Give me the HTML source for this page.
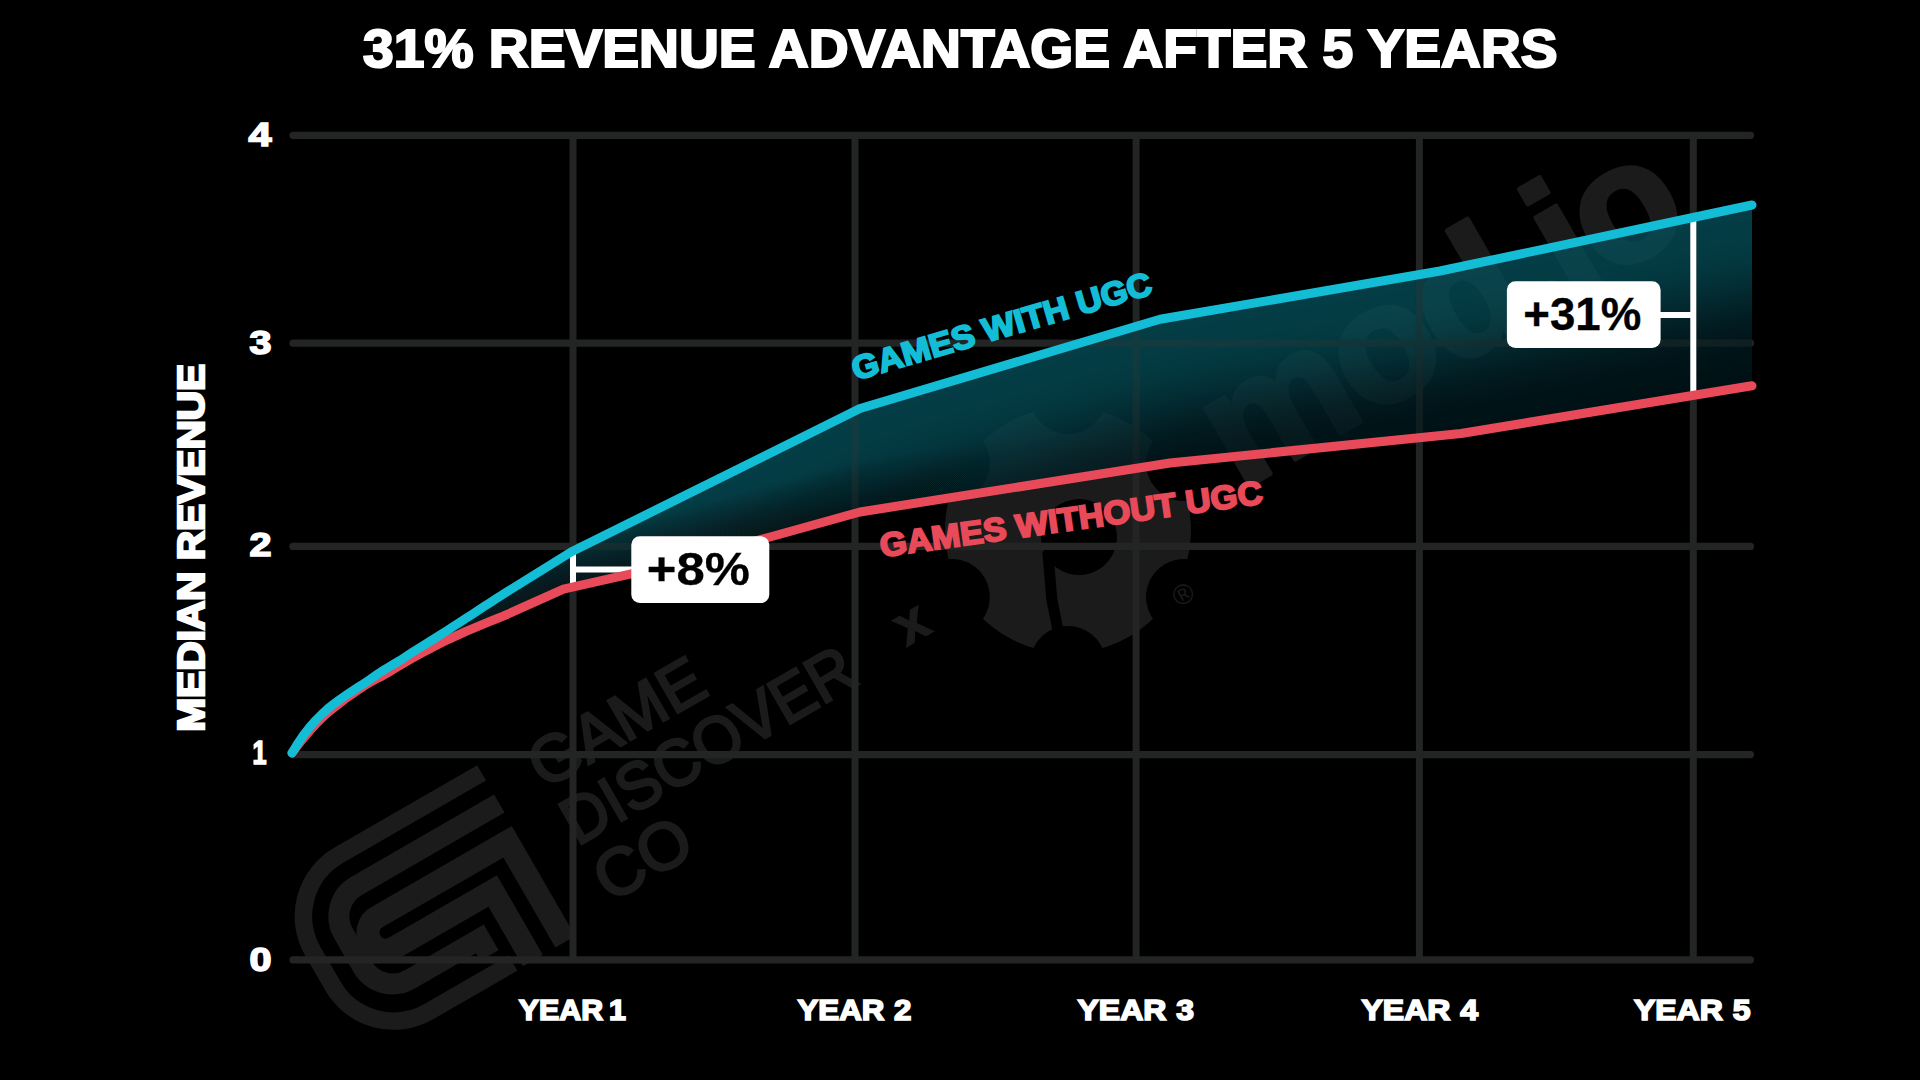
<!DOCTYPE html>
<html lang="en">
<head>
<meta charset="utf-8">
<title>31% Revenue Advantage After 5 Years</title>
<style>
  html, body { margin: 0; padding: 0; background: #000; }
  body { width: 1920px; height: 1080px; overflow: hidden; position: relative; }
  svg { display: block; position: absolute; left: 0; top: 0; }
  text { font-family: "Liberation Sans", sans-serif; font-weight: 700; }
  .w { fill: #fff; stroke: #fff; stroke-linejoin: miter; stroke-miterlimit: 2.5; }
</style>
</head>
<body>
<svg width="1920" height="1080" viewBox="0 0 1920 1080">
  <defs>
    <filter id="glow" color-interpolation-filters="sRGB" filterUnits="userSpaceOnUse" x="0" y="0" width="1920" height="1080">
      <feGaussianBlur stdDeviation="34"/>
    </filter>
    <linearGradient id="shgrad" gradientUnits="userSpaceOnUse" x1="450" y1="0" x2="1080" y2="0">
      <stop offset="0" stop-color="#00090c" stop-opacity="0.05"/>
      <stop offset="0.55" stop-color="#00090c" stop-opacity="0.036"/>
      <stop offset="1" stop-color="#00090c" stop-opacity="0"/>
    </linearGradient>
    
    <mask id="cogmask" maskUnits="userSpaceOnUse" x="-140" y="-140" width="280" height="280">
      <circle r="123" fill="#fff"/>
      <circle cx="67.0" cy="-116.0" r="38" fill="#000"/>
      <circle cx="134.0" cy="-0.0" r="38" fill="#000"/>
      <circle cx="67.0" cy="116.0" r="38" fill="#000"/>
      <circle cx="-134.0" cy="0.0" r="38" fill="#000"/>
      <circle cx="-67.0" cy="-116.0" r="38" fill="#000"/>
      <circle cx="-67.0" cy="116.0" r="38" fill="#000"/>
      <circle cx="6" cy="11.6" r="38" fill="#000"/>
      <polyline points="-28,8 -48.9,52.6 -61.9,91.3 -70,118" fill="none" stroke="#000" stroke-width="11"/>
    </mask>
    <path id="redshadow" d="M292.0,753.0 L298.0,745.0 L304.0,737.5 L310.0,730.5 L316.0,723.9 L322.0,717.8 L328.0,712.4 L334.0,707.8 L340.0,703.0 L346.0,698.2 L352.0,694.2 L358.0,690.1 L364.0,686.0 L370.0,682.3 L376.0,679.0 L382.0,676.1 L388.0,672.7 L394.0,668.9 L400.0,665.3 L406.0,661.8 L412.0,658.4 L418.0,655.1 L424.0,651.8 L430.0,648.7 L436.0,645.6 L442.0,642.6 L448.0,639.6 L454.0,636.8 L460.0,634.1 L466.0,631.4 L472.0,628.9 L478.0,626.3 L484.0,623.8 L490.0,621.4 L496.0,619.0 L502.0,616.6 L507.0,614.5 L563.5,589.2 L630.0,574.2 L770.0,537.0 L860.0,512.0 L1170.0,463.0 L1461.0,433.5 L1752.0,385.8"/>
    <clipPath id="fillclip">
      <path id="fillpath" d="M292.0,753.0 L298.0,743.2 L304.0,734.4 L310.0,726.7 L316.0,720.1 L322.0,714.1 L328.0,708.6 L334.0,703.8 L340.0,699.4 L346.0,695.3 L352.0,691.3 L358.0,687.3 L364.0,683.4 L370.0,679.4 L376.0,675.2 L382.0,671.1 L388.0,667.5 L394.0,664.0 L400.0,660.4 L406.0,656.5 L412.0,652.6 L418.0,648.8 L424.0,645.1 L430.0,641.4 L436.0,637.6 L442.0,633.8 L448.0,630.0 L454.0,626.1 L460.0,622.2 L466.0,618.3 L472.0,614.4 L478.0,610.5 L484.0,606.6 L490.0,602.7 L496.0,598.8 L502.0,595.0 L507.0,591.8 L571.5,551.8 L860.0,408.5 L1160.0,319.3 L1440.0,271.0 L1752.0,205.0 L1752.0,385.8 L1461.0,433.5 L1170.0,463.0 L860.0,512.0 L770.0,537.0 L630.0,574.2 L563.5,589.2 L507.0,614.5 L502.0,616.6 L496.0,619.0 L490.0,621.4 L484.0,623.8 L478.0,626.3 L472.0,628.9 L466.0,631.4 L460.0,634.1 L454.0,636.8 L448.0,639.6 L442.0,642.6 L436.0,645.6 L430.0,648.7 L424.0,651.8 L418.0,655.1 L412.0,658.4 L406.0,661.8 L400.0,665.3 L394.0,668.9 L388.0,672.7 L382.0,676.1 L376.0,679.0 L370.0,682.3 L364.0,686.0 L358.0,690.1 L352.0,694.2 L346.0,698.2 L340.0,703.0 L334.0,707.8 L328.0,712.4 L322.0,717.8 L316.0,723.9 L310.0,730.5 L304.0,737.5 L298.0,745.0 L292.0,753.0 Z"/>
    </clipPath>
  </defs>

  <rect x="0" y="0" width="1920" height="1080" fill="#000"/>

  <!-- watermark: GameDiscoverCo x mod.io -->
  <g id="watermark" transform="translate(477.2,765.2) rotate(-30)" fill="none" stroke="#1b1b1b">
    <!-- GDCo mark -->
    <path d="M0,8.8 H-165.2 A70.2,70.2 0 0 0 -235.4,79 V119 A70.2,70.2 0 0 0 -165.2,189.2 H-68" stroke-width="17.6"/>
    <path d="M0,44.2 H-165.2 A34.8,34.8 0 0 0 -200,79 V117 A34.8,34.8 0 0 0 -165.2,151.8 H-84.5 V171" stroke-width="21" stroke-linejoin="miter"/>
    <path d="M-12,197 V81.5 H-163 A17.6,17.6 0 0 0 -163,116.7 H-49.5 V197" stroke-width="23" stroke-linejoin="miter"/>
    <!-- wordmark -->
    <g fill="#1b1b1b" stroke-width="2.6" font-size="66" style="font-weight:400">
      <text x="46" y="55" textLength="192" lengthAdjust="spacingAndGlyphs" style="font-weight:400">GAME</text>
      <text x="46" y="120.5" textLength="328" lengthAdjust="spacingAndGlyphs" style="font-weight:400">DISCOVER</text>
      <text x="46" y="186" textLength="101" lengthAdjust="spacingAndGlyphs" style="font-weight:400">CO</text>
    </g>
    <text x="431" y="112" font-size="56" fill="#1b1b1b" stroke="#1b1b1b" stroke-width="1.5">x</text>
    <!-- mod.io cog -->
    <g transform="translate(629.2,91.7)" stroke="none">
      <rect x="-140" y="-140" width="280" height="280" fill="#1b1b1b" mask="url(#cogmask)"/>
    </g>
    <text x="686.6" y="214.6" font-size="28" fill="#1b1b1b" stroke="none" style="font-weight:400">®</text>
    <text x="797.6" y="144" font-size="168" fill="#1b1b1b" stroke="#1b1b1b" stroke-width="5" stroke-linejoin="round" style="letter-spacing:-5px">mod.io</text>
  </g>

  <!-- grid -->
  <g id="grid" stroke="#232524" stroke-width="7.2" stroke-linecap="round" fill="none">
    <line x1="293" y1="135.3" x2="1750.5" y2="135.3"/>
    <line x1="293" y1="343.2" x2="1750.5" y2="343.2"/>
    <line x1="293" y1="546.4" x2="1750.5" y2="546.4"/>
    <line x1="293" y1="754.6" x2="1750.5" y2="754.6"/>
    <line x1="293" y1="959.8" x2="1750.5" y2="959.8"/>
    <g stroke-linecap="butt" stroke-width="7">
      <line x1="573" y1="138" x2="573" y2="958"/>
      <line x1="855" y1="138" x2="855" y2="958"/>
      <line x1="1136.1" y1="138" x2="1136.1" y2="958"/>
      <line x1="1419.4" y1="138" x2="1419.4" y2="958"/>
      <line x1="1693.3" y1="138" x2="1693.3" y2="958"/>
    </g>
  </g>

  <!-- area fill between the two curves -->
  <g clip-path="url(#fillclip)" opacity="0.76">
    <rect x="280" y="180" width="1500" height="600" fill="rgb(2,24,29)"/>
    <path d="M250,800 L292.0,753.0 L298.0,743.2 L304.0,734.4 L310.0,726.7 L316.0,720.1 L322.0,714.1 L328.0,708.6 L334.0,703.8 L340.0,699.4 L346.0,695.3 L352.0,691.3 L358.0,687.3 L364.0,683.4 L370.0,679.4 L376.0,675.2 L382.0,671.1 L388.0,667.5 L394.0,664.0 L400.0,660.4 L406.0,656.5 L412.0,652.6 L418.0,648.8 L424.0,645.1 L430.0,641.4 L436.0,637.6 L442.0,633.8 L448.0,630.0 L454.0,626.1 L460.0,622.2 L466.0,618.3 L472.0,614.4 L478.0,610.5 L484.0,606.6 L490.0,602.7 L496.0,598.8 L502.0,595.0 L507.0,591.8 L571.5,551.8 L860.0,408.5 L1160.0,319.3 L1440.0,271.0 L1752.0,205.0 L1850,184" fill="none" stroke="rgb(6,81,92)" stroke-width="176" stroke-linejoin="round" filter="url(#glow)"/>
    <g fill="none" stroke="url(#shgrad)" stroke-linejoin="round">
      <use href="#redshadow" stroke-width="100"/>
      <use href="#redshadow" stroke-width="96"/>
      <use href="#redshadow" stroke-width="92"/>
      <use href="#redshadow" stroke-width="88"/>
      <use href="#redshadow" stroke-width="84"/>
      <use href="#redshadow" stroke-width="80"/>
      <use href="#redshadow" stroke-width="76"/>
      <use href="#redshadow" stroke-width="72"/>
      <use href="#redshadow" stroke-width="68"/>
      <use href="#redshadow" stroke-width="64"/>
      <use href="#redshadow" stroke-width="60"/>
      <use href="#redshadow" stroke-width="56"/>
      <use href="#redshadow" stroke-width="52"/>
      <use href="#redshadow" stroke-width="48"/>
      <use href="#redshadow" stroke-width="44"/>
      <use href="#redshadow" stroke-width="40"/>
      <use href="#redshadow" stroke-width="36"/>
      <use href="#redshadow" stroke-width="32"/>
      <use href="#redshadow" stroke-width="28"/>
      <use href="#redshadow" stroke-width="24"/>
      <use href="#redshadow" stroke-width="20"/>
      <use href="#redshadow" stroke-width="16"/>
      <use href="#redshadow" stroke-width="12"/>
    </g>
  </g>

  <use href="#grid" clip-path="url(#fillclip)" opacity="0.3"/>

  <!-- brackets -->
  <g stroke="#fff" stroke-width="6" fill="none">
    <line x1="573" y1="553" x2="573" y2="586"/>
    <line x1="573" y1="569.4" x2="640" y2="569.4"/>
    <line x1="1693.3" y1="217" x2="1693.3" y2="395"/>
    <line x1="1650" y1="315" x2="1693.3" y2="315"/>
  </g>

  <!-- curves -->
  <path d="M292.0,753.0 L298.0,745.0 L304.0,737.5 L310.0,730.5 L316.0,723.9 L322.0,717.8 L328.0,712.4 L334.0,707.8 L340.0,703.0 L346.0,698.2 L352.0,694.2 L358.0,690.1 L364.0,686.0 L370.0,682.3 L376.0,679.0 L382.0,676.1 L388.0,672.7 L394.0,668.9 L400.0,665.3 L406.0,661.8 L412.0,658.4 L418.0,655.1 L424.0,651.8 L430.0,648.7 L436.0,645.6 L442.0,642.6 L448.0,639.6 L454.0,636.8 L460.0,634.1 L466.0,631.4 L472.0,628.9 L478.0,626.3 L484.0,623.8 L490.0,621.4 L496.0,619.0 L502.0,616.6 L507.0,614.5 L563.5,589.2 L630.0,574.2 L770.0,537.0 L860.0,512.0 L1170.0,463.0 L1461.0,433.5 L1752.0,385.8" fill="none" stroke="#e84a5a" stroke-width="9" stroke-linecap="round" stroke-linejoin="round"/>
  <path d="M292.0,753.0 L298.0,743.2 L304.0,734.4 L310.0,726.7 L316.0,720.1 L322.0,714.1 L328.0,708.6 L334.0,703.8 L340.0,699.4 L346.0,695.3 L352.0,691.3 L358.0,687.3 L364.0,683.4 L370.0,679.4 L376.0,675.2 L382.0,671.1 L388.0,667.5 L394.0,664.0 L400.0,660.4 L406.0,656.5 L412.0,652.6 L418.0,648.8 L424.0,645.1 L430.0,641.4 L436.0,637.6 L442.0,633.8 L448.0,630.0 L454.0,626.1 L460.0,622.2 L466.0,618.3 L472.0,614.4 L478.0,610.5 L484.0,606.6 L490.0,602.7 L496.0,598.8 L502.0,595.0 L507.0,591.8 L571.5,551.8 L860.0,408.5 L1160.0,319.3 L1440.0,271.0 L1752.0,205.0" fill="none" stroke="#14bdd6" stroke-width="9" stroke-linecap="round" stroke-linejoin="round"/>

  <!-- callout boxes -->
  <rect x="631.3" y="536.3" width="138" height="66.8" rx="8.5" fill="#fff"/>
  <rect x="1506.9" y="281.3" width="153.7" height="66.8" rx="8.5" fill="#fff"/>
  <text x="646.8" y="585" font-size="46.5" fill="#000" stroke="#000" stroke-width="0.3" textLength="103" lengthAdjust="spacingAndGlyphs">+8%</text>
  <text x="1523.3" y="330" font-size="46.5" fill="#000" stroke="#000" stroke-width="0.3" textLength="118" lengthAdjust="spacingAndGlyphs">+31%</text>

  <!-- title -->
  <text class="w" x="363.1" y="66.9" font-size="54" stroke-width="2.2" textLength="1194.5" lengthAdjust="spacingAndGlyphs">31% REVENUE ADVANTAGE AFTER 5 YEARS</text>

  <!-- y axis numbers -->
  <g class="w" font-size="33" stroke-width="1.6">
    <text x="248.6" y="146.1" textLength="23" lengthAdjust="spacingAndGlyphs">4</text>
    <text x="249.4" y="354" textLength="22" lengthAdjust="spacingAndGlyphs">3</text>
    <text x="249.4" y="556.4" textLength="22" lengthAdjust="spacingAndGlyphs">2</text>
    <text x="252.6" y="764" textLength="14" lengthAdjust="spacingAndGlyphs">1</text>
    <text x="249.4" y="971" textLength="22" lengthAdjust="spacingAndGlyphs">0</text>
  </g>

  <!-- x axis labels -->
  <g class="w" font-size="30" stroke-width="1.7">
    <text x="518.8" y="1020.4" textLength="107" lengthAdjust="spacingAndGlyphs" style="word-spacing:-2.6px">YEAR 1</text>
    <text x="797.5" y="1020.4" textLength="114" lengthAdjust="spacingAndGlyphs" style="word-spacing:1px">YEAR 2</text>
    <text x="1077.5" y="1020.4" textLength="116.5" lengthAdjust="spacingAndGlyphs" style="word-spacing:1px">YEAR 3</text>
    <text x="1361.5" y="1020.4" textLength="116.5" lengthAdjust="spacingAndGlyphs" style="word-spacing:1px">YEAR 4</text>
    <text x="1634" y="1020.4" textLength="116.5" lengthAdjust="spacingAndGlyphs" style="word-spacing:1px">YEAR 5</text>
  </g>

  <!-- y axis title -->
  <text class="w" font-size="37" stroke-width="2.4" transform="translate(204.2,731.8) rotate(-90)" textLength="368" lengthAdjust="spacingAndGlyphs">MEDIAN REVENUE</text>

  <!-- series labels -->
  <text font-size="33" fill="#14bdd6" stroke="#14bdd6" stroke-width="2" transform="translate(855.4,380.4) rotate(-16.2)" textLength="311" lengthAdjust="spacingAndGlyphs">GAMES WITH UGC</text>
  <text font-size="33" fill="#e84a5a" stroke="#e84a5a" stroke-width="2" transform="translate(881.5,557) rotate(-8)" textLength="386" lengthAdjust="spacingAndGlyphs">GAMES WITHOUT UGC</text>
</svg>
</body>
</html>
